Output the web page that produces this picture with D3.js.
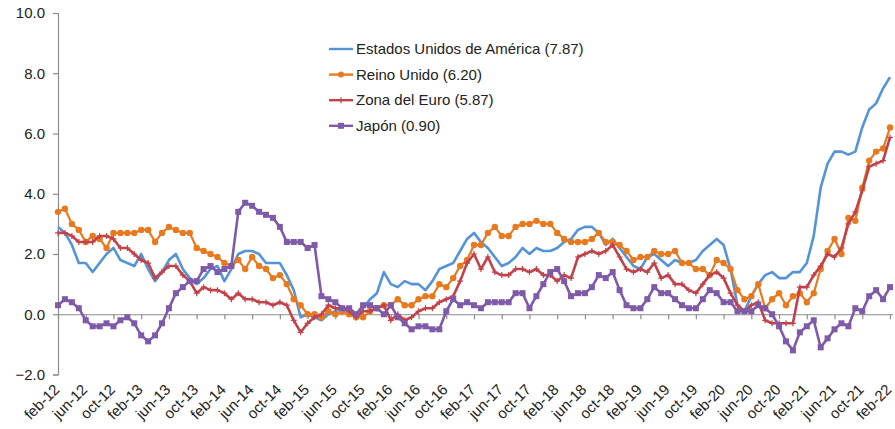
<!DOCTYPE html>
<html><head><meta charset="utf-8">
<script src="https://cdn.jsdelivr.net/npm/d3@7"></script>
<style>
html,body{margin:0;padding:0;background:#fff;}
svg{display:block;font-family:"Liberation Sans",Arial,sans-serif;}
</style></head>
<body><svg id="chart" width="895" height="429"></svg>
<script>
// ---- data ----
const monthAbbr = ["ene","feb","mar","abr","may","jun","jul","ago","sep","oct","nov","dic"];
const categories = [];
for (let y = 2012; y <= 2022; y++) {
  for (let m = 0; m < 12; m++) {
    if (y === 2012 && m < 1) continue;
    if (y === 2022 && m > 1) continue;
    categories.push(monthAbbr[m] + "-" + String(y).slice(2));
  }
}
const tickLabels = ["feb-12","jun-12","oct-12","feb-13","jun-13","oct-13","feb-14","jun-14","oct-14",
  "feb-15","jun-15","oct-15","feb-16","jun-16","oct-16","feb-17","jun-17","oct-17","feb-18","jun-18",
  "oct-18","feb-19","jun-19","oct-19","feb-20","jun-20","oct-20","feb-21","jun-21","oct-21","feb-22"];
const yTicks = [-2, 0, 2, 4, 6, 8, 10];

const usa = [2.9,2.7,2.3,1.7,1.7,1.4,1.7,2.0,2.2,1.8,1.7,
  1.6,2.0,1.5,1.1,1.4,1.8,2.0,1.5,1.2,1.0,1.2,1.5,
  1.6,1.1,1.5,2.0,2.1,2.1,2.0,1.7,1.7,1.7,1.3,0.8,
  -0.1,0.0,-0.1,-0.2,0.0,0.1,0.2,0.2,0.0,0.2,0.5,0.7,
  1.4,1.0,0.9,1.1,1.0,1.0,0.8,1.1,1.5,1.6,1.7,2.1,
  2.5,2.7,2.4,2.2,1.9,1.6,1.7,1.9,2.2,2.0,2.2,2.1,
  2.1,2.2,2.4,2.5,2.8,2.9,2.9,2.7,2.3,2.5,2.2,1.9,
  1.6,1.5,1.9,2.0,1.8,1.6,1.8,1.7,1.7,1.8,2.1,2.3,
  2.5,2.3,1.5,0.3,0.1,0.6,1.0,1.3,1.4,1.2,1.2,1.4,
  1.4,1.7,2.6,4.2,5.0,5.4,5.4,5.3,5.4,6.2,6.8,7.0,
  7.5,7.87];
const uk = [3.4,3.5,3.0,2.8,2.4,2.6,2.5,2.2,2.7,2.7,2.7,
  2.7,2.8,2.8,2.4,2.7,2.9,2.8,2.7,2.7,2.2,2.1,2.0,
  1.9,1.7,1.6,1.8,1.5,1.9,1.6,1.5,1.2,1.3,1.0,0.5,
  0.3,0.0,0.0,-0.1,0.1,0.0,0.1,0.0,-0.1,-0.1,0.1,0.2,
  0.3,0.3,0.5,0.3,0.3,0.5,0.6,0.6,1.0,0.9,1.2,1.6,
  1.8,2.3,2.3,2.7,2.9,2.6,2.6,2.9,3.0,3.0,3.1,3.0,
  3.0,2.7,2.5,2.4,2.4,2.4,2.5,2.7,2.4,2.4,2.3,2.1,
  1.8,1.9,1.9,2.1,2.0,2.0,2.1,1.7,1.7,1.5,1.5,1.3,
  1.8,1.7,1.5,0.8,0.5,0.6,1.0,0.2,0.5,0.7,0.3,0.6,
  0.7,0.4,0.7,1.5,2.1,2.5,2.0,3.2,3.1,4.2,5.1,5.4,
  5.5,6.2];
const euro = [2.7,2.7,2.6,2.4,2.4,2.4,2.6,2.6,2.5,2.2,2.2,
  2.0,1.8,1.7,1.2,1.4,1.6,1.6,1.3,1.1,0.7,0.9,0.8,
  0.8,0.7,0.5,0.7,0.5,0.5,0.4,0.4,0.3,0.4,0.3,-0.2,
  -0.6,-0.3,-0.1,0.0,0.3,0.2,0.2,0.1,-0.1,0.1,0.1,0.2,
  0.3,-0.2,0.0,-0.2,-0.1,0.1,0.2,0.2,0.4,0.5,0.6,1.1,
  1.7,2.0,1.5,1.9,1.4,1.3,1.3,1.5,1.5,1.4,1.5,1.3,
  1.3,1.1,1.3,1.2,1.9,2.0,2.1,2.0,2.1,2.3,1.9,1.5,
  1.4,1.5,1.4,1.7,1.2,1.3,1.0,1.0,0.8,0.7,1.0,1.3,
  1.4,1.2,0.7,0.3,0.1,0.3,0.4,-0.2,-0.3,-0.3,-0.3,-0.3,
  0.9,0.9,1.3,1.6,2.0,1.9,2.2,3.0,3.4,4.1,4.9,5.0,
  5.1,5.87];
const japan = [0.3,0.5,0.4,0.2,-0.2,-0.4,-0.4,-0.3,-0.4,-0.2,-0.1,
  -0.3,-0.7,-0.9,-0.7,-0.3,0.2,0.7,0.9,1.1,1.1,1.5,1.6,
  1.4,1.5,1.6,3.4,3.7,3.6,3.4,3.3,3.2,2.9,2.4,2.4,
  2.4,2.2,2.3,0.6,0.5,0.4,0.2,0.2,0.0,0.3,0.3,0.2,
  0.0,0.3,-0.1,-0.3,-0.5,-0.4,-0.4,-0.5,-0.5,0.1,0.5,0.3,
  0.4,0.3,0.2,0.4,0.4,0.4,0.4,0.7,0.7,0.2,0.6,1.0,
  1.4,1.5,1.1,0.6,0.7,0.7,0.9,1.3,1.2,1.4,0.8,0.3,
  0.2,0.2,0.5,0.9,0.7,0.7,0.5,0.3,0.2,0.2,0.5,0.8,
  0.7,0.4,0.4,0.1,0.1,0.1,0.3,0.2,0.0,-0.4,-0.9,-1.2,
  -0.6,-0.4,-0.2,-1.1,-0.8,-0.5,-0.3,-0.4,0.2,0.1,0.6,0.8,
  0.5,0.9];

const seriesNames = ["Estados Unidos de América (7.87)","Reino Unido (6.20)","Zona del Euro (5.87)","Japón (0.90)"];
const seriesColors = ["#5593d7","#e8791f","#c2424a","#7f5aa8"];

// ---- chart ----
const svg = d3.select("#chart");
const x = d3.scalePoint().domain(categories).range([58, 890]);
const y = d3.scaleLinear().domain([-2, 10]).range([374.5, 13]);
const axisColor = "#8c8c8c";

// y axis
const gy = svg.append("g").attr("transform","translate(58,0)")
  .call(d3.axisLeft(y).tickValues(yTicks).tickFormat(d3.format(".1f")).tickSize(5).tickPadding(8));
gy.select(".domain").attr("stroke", axisColor).attr("stroke-width",1.2);
gy.selectAll(".tick line").attr("stroke", axisColor).attr("stroke-width",1.2);
gy.selectAll(".tick text").attr("fill","#222").style("font-size","15px");

// x axis line at zero with ticks
const gx = svg.append("g").attr("transform",`translate(0,${y(0)})`)
  .call(d3.axisBottom(x).tickValues(tickLabels).tickFormat("").tickSize(5).tickSizeOuter(0));
gx.select(".domain").attr("stroke", axisColor).attr("stroke-width",1.2).attr("d", `M58,0.5H893`);
gx.selectAll(".tick line").attr("stroke", axisColor).attr("stroke-width",1.2);

// x labels at bottom
const gl = svg.append("g").attr("transform",`translate(0,${y(-2)})`)
  .call(d3.axisBottom(x).tickValues(tickLabels).tickSize(0));
gl.select(".domain").remove();
gl.selectAll(".tick text")
  .attr("fill","#222").style("font-size","15px")
  .attr("text-anchor","end")
  .attr("x",0).attr("y",0).attr("dy",0)
  .attr("transform","translate(2,16) rotate(-45)");

const line = d3.line().x((d,i)=>x(categories[i])).y(d=>y(d));
const allSeries = [usa, uk, euro, japan];
const widths = [2.6, 2.2, 2.6, 2.6];
allSeries.forEach((s, k) => {
  svg.append("path").datum(s).attr("fill","none").attr("stroke", seriesColors[k])
    .attr("stroke-width", widths[k]).attr("stroke-linejoin","round").attr("d", line);
  if (k === 1) {
    svg.append("g").selectAll("circle").data(s).join("circle")
      .attr("cx",(d,i)=>x(categories[i])).attr("cy",d=>y(d)).attr("r",3.2).attr("fill",seriesColors[k]);
  } else if (k === 2) {
    svg.append("g").selectAll("path").data(s).join("path")
      .attr("d",(d,i)=>{const cx=x(categories[i]), cy=y(d); return `M${cx},${cy-3}V${cy+3}M${cx-3},${cy}H${cx+3}`;})
      .attr("stroke",seriesColors[k]).attr("stroke-width",1.2);
  } else if (k === 3) {
    svg.append("g").selectAll("rect").data(s).join("rect")
      .attr("x",(d,i)=>x(categories[i])-3).attr("y",d=>y(d)-3).attr("width",6).attr("height",6)
      .attr("fill",seriesColors[k]);
  }
});

// legend
const lg = svg.append("g");
seriesNames.forEach((name, k) => {
  const cy = 49 + k*25.6;
  lg.append("line").attr("x1",329).attr("x2",353).attr("y1",cy).attr("y2",cy)
    .attr("stroke",seriesColors[k]).attr("stroke-width",2.4);
  if (k === 1) lg.append("circle").attr("cx",341).attr("cy",cy).attr("r",3).attr("fill",seriesColors[k]);
  if (k === 2) lg.append("path").attr("d",`M341,${cy-3}V${cy+3}`).attr("stroke",seriesColors[k]).attr("stroke-width",1.2);
  if (k === 3) lg.append("rect").attr("x",338).attr("y",cy-3).attr("width",6).attr("height",6).attr("fill",seriesColors[k]);
  lg.append("text").attr("x",356).attr("y",cy).attr("dy","0.35em").attr("fill","#222")
    .style("font-size","15px").text(name);
});
</script></body></html>
